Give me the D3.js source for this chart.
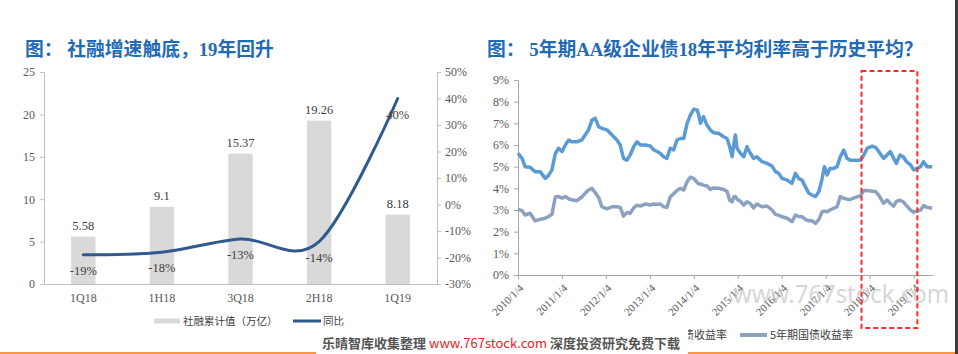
<!DOCTYPE html>
<html><head><meta charset="utf-8">
<script src="https://cdn.jsdelivr.net/npm/d3@7"></script>
<style>body{margin:0;background:#fff;}svg{display:block}</style>
</head><body>
<svg id="c" width="958" height="354"></svg>
<script>
// ---------- Left chart data ----------
const categories = ["1Q18","1H18","3Q18","2H18","1Q19"];
const tsfValues = [5.58, 9.1, 15.37, 19.26, 8.18];
const tsfLabels = ["5.58","9.1","15.37","19.26","8.18"];
const yoyValues = [-19, -18, -13, -14, 40];
const yoyLabels = ["-19%","-18%","-13%","-14%","40%"];
const leftTicks = [0,5,10,15,20,25];
const rightTicks = [-30,-20,-10,0,10,20,30,40,50];

// ---------- Right chart data ----------
const rateDates = ["2010-01-04","2010-02-07","2010-03-04","2010-04-15","2010-05-26","2010-07-07","2010-08-18","2010-09-15","2010-10-13","2010-11-10","2010-12-07",
"2011-01-05","2011-02-01","2011-03-01","2011-03-26","2011-05-08","2011-06-18","2011-07-16","2011-08-13","2011-09-10","2011-10-08","2011-11-05","2011-12-02",
"2012-01-13","2012-02-24","2012-04-05","2012-05-02","2012-05-30","2012-06-27","2012-07-24","2012-08-22","2012-09-19","2012-10-17","2012-11-27",
"2013-01-08","2013-02-06","2013-03-05","2013-03-30","2013-04-28","2013-05-25","2013-06-22","2013-07-20","2013-08-17","2013-09-14","2013-10-12","2013-11-09","2013-12-06",
"2014-01-02","2014-01-31","2014-02-14","2014-02-28","2014-03-25","2014-04-23","2014-05-20","2014-06-17","2014-07-28","2014-09-09","2014-10-07","2014-10-29","2014-11-18","2014-12-01","2014-12-15","2014-12-29",
"2015-01-26","2015-02-23","2015-03-21","2015-04-18","2015-05-15","2015-06-12","2015-07-24","2015-09-04","2015-10-15","2015-11-13","2015-12-10",
"2016-01-07","2016-02-18","2016-03-29","2016-04-27","2016-05-24","2016-06-21","2016-07-18","2016-08-16","2016-09-13","2016-10-11","2016-11-08","2016-12-05","2016-12-24",
"2017-01-16","2017-02-08","2017-03-11","2017-04-08","2017-05-05","2017-06-02","2017-06-30","2017-07-27","2017-09-08","2017-10-19","2017-11-17","2017-12-14",
"2018-01-25","2018-02-22","2018-03-20","2018-04-30","2018-05-28","2018-06-25","2018-07-22","2018-08-14","2018-09-12","2018-10-09","2018-11-06","2018-12-09",
"2019-01-06","2019-02-03","2019-03-03","2019-03-28","2019-04-26","2019-06-07"];
const aaYield = [5.62,5.38,5.0,4.97,4.77,4.77,4.46,4.6,4.85,5.6,
5.85,5.7,6.0,6.23,6.15,6.15,6.23,6.46,6.7,7.15,
7.23,6.85,6.77,6.7,6.46,6.23,6.0,5.38,5.3,5.54,
5.92,6.15,6.0,6.0,5.95,5.77,5.7,5.62,5.46,5.38,
5.85,5.77,6.23,6.3,6.3,7.0,7.38,7.65,7.62,7.38,
7.0,7.31,6.92,6.7,6.57,6.54,6.38,6.3,5.92,5.46,
6.0,6.46,5.85,5.62,5.46,5.92,5.62,5.38,5.46,5.23,
5.15,5.03,4.77,4.69,4.46,4.38,4.23,4.69,4.46,4.38,
4.08,3.77,3.69,3.62,3.85,4.46,5.0,4.62,4.92,4.92,
5.0,5.46,5.77,5.38,5.3,5.3,5.3,5.54,5.85,5.95,
5.89,5.7,5.38,5.54,5.7,5.38,5.15,5.54,5.46,5.23,
5.08,4.85,4.92,5.0,5.23,5.0,5.0];
const govYield = [3.03,2.97,2.77,2.85,2.5,2.57,2.62,2.7,2.8,3.6,
3.62,3.55,3.62,3.52,3.47,3.43,3.6,3.77,3.92,4.0,
3.8,3.58,3.15,3.05,3.15,3.15,3.12,2.72,2.88,2.85,
3.1,3.22,3.18,3.28,3.23,3.28,3.26,3.28,3.15,3.12,
3.6,3.75,3.9,4.0,3.92,4.31,4.51,4.46,4.28,4.2,
4.2,4.15,4.11,3.95,4.02,4.0,3.95,3.85,3.45,3.38,
3.6,3.62,3.5,3.4,3.23,3.38,3.3,3.1,3.28,3.15,
3.18,3.0,2.8,2.75,2.69,2.62,2.46,2.77,2.7,2.69,
2.57,2.5,2.5,2.38,2.57,2.92,2.95,2.92,3.0,3.08,
3.15,3.62,3.54,3.5,3.49,3.58,3.65,3.9,3.9,3.87,
3.85,3.69,3.31,3.46,3.3,3.18,3.4,3.45,3.38,3.2,
3.0,2.9,2.95,3.0,3.2,3.12,3.08];
const rateTicks = [0,1,2,3,4,5,6,7,8,9];
const yearTicks = ["2010-01-04","2011-01-04","2012-01-04","2013-01-04","2014-01-04","2015-01-04","2016-01-04","2017-01-04","2018-01-04","2019-01-04"];
const highlightRange = ["2017-10-28","2019-02-04"];

const titleLeft = "图： 社融增速触底，19年回升";
const titleRight = "图： 5年期AA级企业债18年平均利率高于历史平均？";

const serif = "'Liberation Serif','Times New Roman',serif";
const cjk = "'Liberation Serif','Noto Sans CJK SC',sans-serif";
const cjkSans = "'Noto Sans CJK SC','Noto Sans',sans-serif";

const svg = d3.select("#c");
svg.append("rect").attr("width",958).attr("height",354).attr("fill","#fff");

// Titles
svg.append("text").attr("x",25).attr("y",55.5).text(titleLeft)
  .attr("font-family",cjk).attr("font-weight","bold").attr("font-size",18.8).attr("fill","#1f6bb5");
svg.append("text").attr("x",487).attr("y",55.5).text(titleRight)
  .attr("font-family",cjk).attr("font-weight","bold").attr("font-size",18.8).attr("fill","#1f6bb5");

function styleAxis(g, color){
  g.selectAll("path.domain").attr("stroke",color).attr("stroke-width",1);
  g.selectAll(".tick line").attr("stroke",color);
  g.selectAll(".tick text").attr("fill","#595959").attr("font-family",serif).attr("font-size",12);
}

// ---------- Left chart ----------
const L = {x0:44, x1:437, y0:284, y1:72};
const xL = d3.scaleBand().domain(categories).range([L.x0,L.x1]).padding(0);
const yL = d3.scaleLinear().domain([0,25]).range([L.y0,L.y1]);
const yR = d3.scaleLinear().domain([-30,50]).range([L.y0,L.y1]);
const cx = c => xL(c) + xL.bandwidth()/2;
const barW = xL.bandwidth()*0.31;

const gl = svg.append("g");
gl.append("g").attr("transform",`translate(${L.x0},0)`)
  .call(d3.axisLeft(yL).tickValues(leftTicks).tickSize(4).tickSizeOuter(0).tickPadding(5))
  .call(g=>styleAxis(g,"#bfbfbf"));
gl.append("g").attr("transform",`translate(${L.x1},0)`)
  .call(d3.axisRight(yR).tickValues(rightTicks).tickFormat(d=>d+"%").tickSize(4).tickSizeOuter(0).tickPadding(4))
  .call(g=>styleAxis(g,"#bfbfbf"));

gl.selectAll("rect.bar").data(categories).join("rect").attr("class","bar")
  .attr("x",c=>cx(c)-barW/2).attr("width",barW)
  .attr("y",(c,i)=>yL(tsfValues[i])).attr("height",(c,i)=>L.y0-yL(tsfValues[i]))
  .attr("fill","#d9d9d9");

gl.append("g").attr("transform",`translate(0,${L.y0})`)
  .call(d3.axisBottom(xL).tickSize(0).tickSizeOuter(0).tickPadding(9))
  .call(g=>styleAxis(g,"#bfbfbf"));

gl.selectAll("text.bl").data(categories).join("text").attr("class","bl")
  .attr("x",c=>cx(c)).attr("y",(c,i)=>yL(tsfValues[i])-7)
  .attr("text-anchor","middle").attr("font-family",serif).attr("font-size",12.5).attr("fill","#404040")
  .text((c,i)=>tsfLabels[i]);

const lineL = d3.line().x((d,i)=>cx(categories[i])).y(d=>yR(d)).curve(d3.curveCardinal.tension(0));
gl.append("path").attr("d",lineL(yoyValues)).attr("fill","none")
  .attr("stroke","#2f5a8e").attr("stroke-width",3).attr("stroke-linecap","round");

gl.selectAll("text.ll").data(categories).join("text").attr("class","ll")
  .attr("x",c=>cx(c)).attr("y",(c,i)=>yR(yoyValues[i])+20)
  .attr("text-anchor","middle").attr("font-family",serif).attr("font-size",12.5).attr("fill","#404040")
  .text((c,i)=>yoyLabels[i]);

// left legend
gl.append("rect").attr("x",154).attr("y",318.5).attr("width",26).attr("height",5).attr("fill","#d9d9d9");
gl.append("text").attr("x",183).attr("y",325).text("社融累计值（万亿）")
  .attr("font-family",cjkSans).attr("font-size",10.5).attr("fill","#404040");
gl.append("line").attr("x1",293).attr("x2",321).attr("y1",321).attr("y2",321)
  .attr("stroke","#2f5a8e").attr("stroke-width",3);
gl.append("text").attr("x",323).attr("y",325).text("同比")
  .attr("font-family",cjkSans).attr("font-size",10.5).attr("fill","#404040");

// ---------- Right chart ----------
const parseD = d3.timeParse("%Y-%m-%d");
const R = {x0:518, x1:933, y0:275, y1:80};
const xT = d3.scaleTime().domain([parseD("2010-01-04"), parseD("2019-06-14")]).range([R.x0,R.x1]);
const yT = d3.scaleLinear().domain([0,9]).range([R.y0,R.y1]);
const gr = svg.append("g");

gr.append("g").attr("transform",`translate(${R.x0},0)`)
  .call(d3.axisLeft(yT).tickValues(rateTicks).tickFormat(d=>d+"%").tickSize(4).tickSizeOuter(0).tickPadding(5))
  .call(g=>styleAxis(g,"#a6a6a6"));
const fmt = d3.timeFormat("%Y/%-m/%-d");
gr.append("g").attr("transform",`translate(0,${R.y0})`)
  .call(d3.axisBottom(xT).tickValues(yearTicks.map(parseD)).tickFormat(fmt).tickSize(4).tickSizeOuter(0))
  .call(g=>styleAxis(g,"#a6a6a6"))
  .call(g=>g.selectAll(".tick text").attr("font-size",11).attr("text-anchor","end")
     .attr("y",0).attr("dy","0.35em").attr("transform","translate(3,11) rotate(-45)"));

// faint watermark
gr.append("text").attr("x",733).attr("y",303).text("www.767stock.com")
  .attr("font-family","'Noto Sans',sans-serif").attr("font-size",26)
  .attr("textLength",216).attr("lengthAdjust","spacingAndGlyphs")
  .attr("fill","#b5b5b5").attr("opacity",0.55);

const lineR = d3.line().x((d,i)=>xT(parseD(rateDates[i]))).y(d=>yT(d));
gr.append("path").attr("d",lineR(govYield)).attr("fill","none")
  .attr("stroke","#8ca0bf").attr("stroke-width",3.5).attr("stroke-linejoin","round");
gr.append("path").attr("d",lineR(aaYield)).attr("fill","none")
  .attr("stroke","#5b9bd5").attr("stroke-width",3.5).attr("stroke-linejoin","round");

// highlight box
const hx0 = xT(parseD(highlightRange[0])), hx1 = xT(parseD(highlightRange[1]));
gr.append("rect").attr("x",hx0).attr("y",71).attr("width",hx1-hx0).attr("height",257)
  .attr("fill","none").attr("stroke","#ff2b2b").attr("stroke-width",2).attr("stroke-dasharray","5,3");

// right legend
gr.append("line").attr("x1",560).attr("x2",587).attr("y1",335).attr("y2",335)
  .attr("stroke","#5b9bd5").attr("stroke-width",4);
gr.append("text").attr("x",727).attr("y",339).attr("text-anchor","end").text("5年期AA级企业债收益率")
  .attr("font-family",cjkSans).attr("font-size",11).attr("fill","#404040");
gr.append("line").attr("x1",740).attr("x2",767).attr("y1",335).attr("y2",335)
  .attr("stroke","#8ca0bf").attr("stroke-width",4);
gr.append("text").attr("x",770).attr("y",339).text("5年期国债收益率")
  .attr("font-family",cjkSans).attr("font-size",11).attr("fill","#404040");

// bottom orange rule and right border
svg.append("rect").attr("x",0).attr("y",352).attr("width",958).attr("height",2).attr("fill","#f79646");
svg.append("rect").attr("x",955).attr("y",0).attr("width",3).attr("height",354).attr("fill","#3c3c3c");

// watermark banner
svg.append("rect").attr("x",316).attr("y",325.5).attr("width",372).attr("height",29).attr("fill","#fff");
const wm = svg.append("text").attr("x",322).attr("y",347.5)
  .attr("font-family",cjkSans).attr("font-size",13).attr("font-weight","bold");
wm.append("tspan").attr("fill","#555").text("乐晴智库收集整理 ");
wm.append("tspan").attr("fill","#e3241d").attr("font-weight","normal").text("www.767stock.com");
wm.append("tspan").attr("fill","#555").text(" 深度投资研究免费下载");
</script>
</body></html>
